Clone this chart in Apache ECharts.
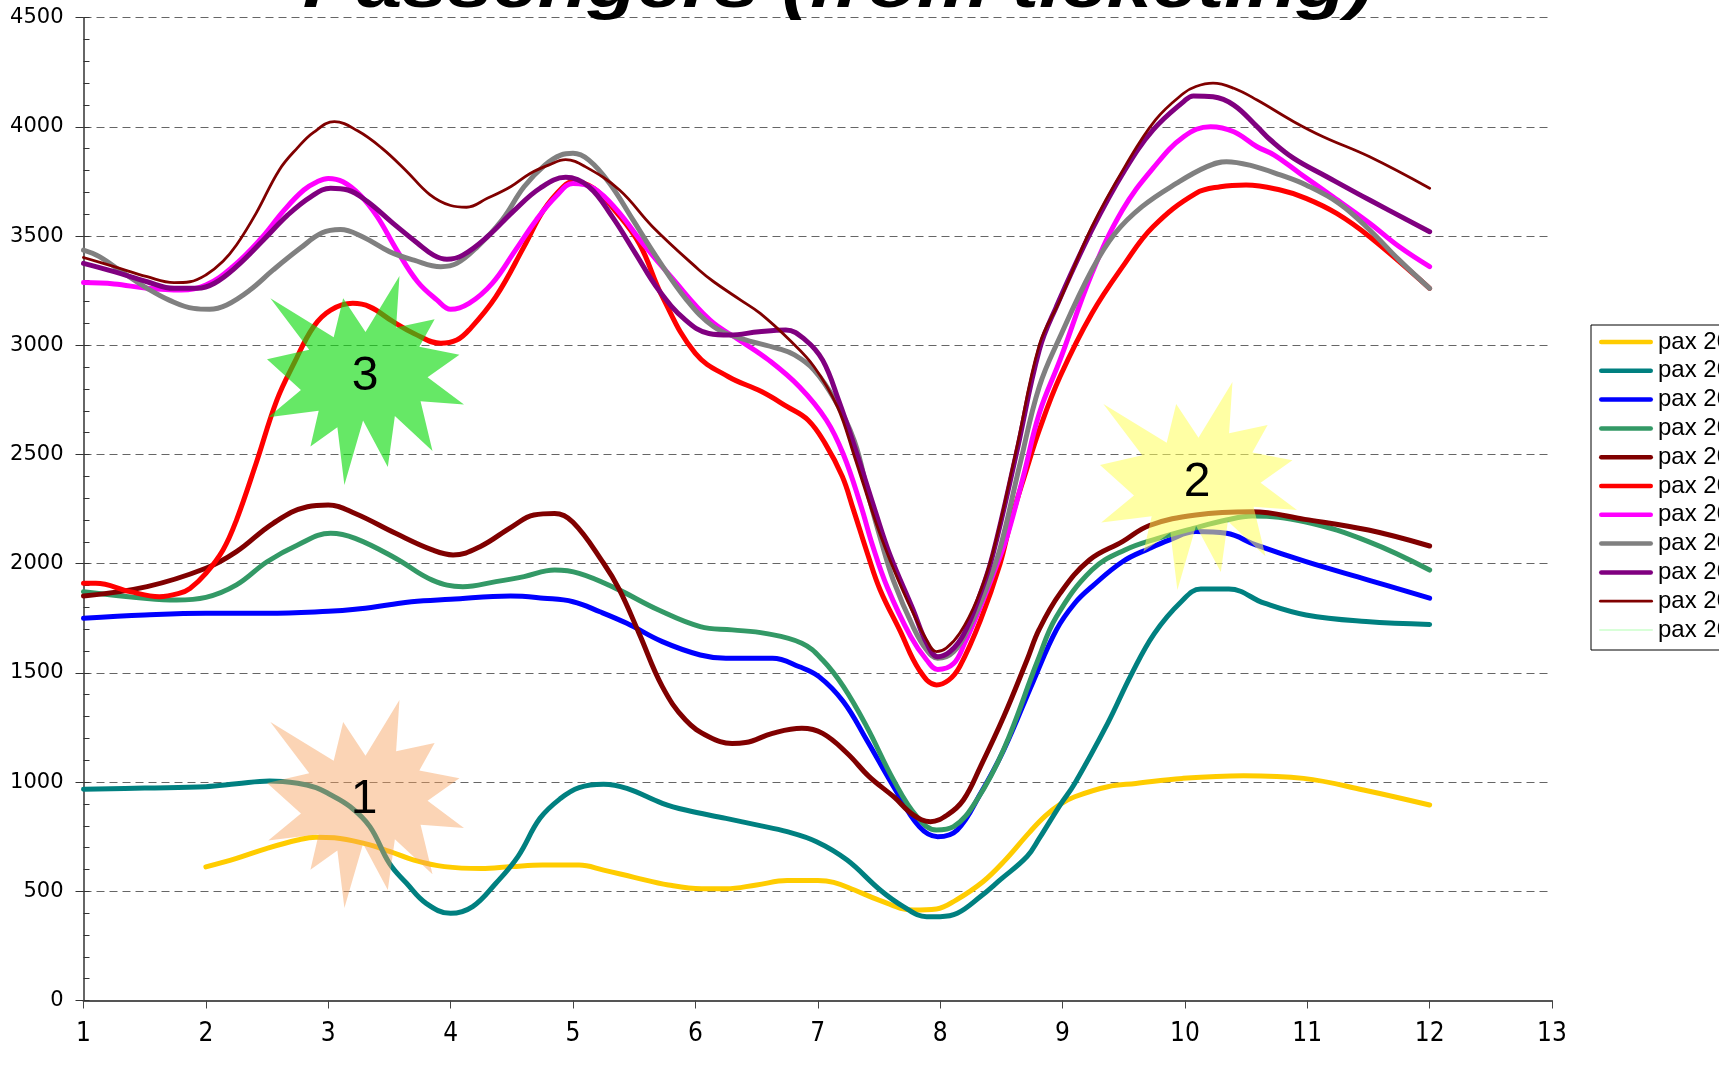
<!DOCTYPE html>
<html>
<head>
<meta charset="utf-8">
<title>Passengers (from ticketing)</title>
<script src="https://cdn.jsdelivr.net/npm/echarts@6/dist/echarts.min.js"></script>
<style>
  html, body { margin: 0; padding: 0; background: #ffffff; }
  #chart { width: 1719px; height: 1077px; }
</style>
</head>
<body>
<div id="chart"></div>
<script>
// Monthly passenger counts, one [month, passengers] list per year.
const seriesNames = ['pax 2000', 'pax 2001', 'pax 2002', 'pax 2003', 'pax 2004', 'pax 2005',
                     'pax 2006', 'pax 2007', 'pax 2008', 'pax 2009', 'pax 2010'];

const pax2000 = [[2,612],[2.25,651],[2.5,697],[2.75,735],[2.9,748],[3.05,745],[3.3,718],[3.5,683],[3.7,643],[3.95,613],[4.25,604],[4.5,613],[4.75,620],[5.05,620],[5.25,597],[5.5,564],[5.78,529],[6.05,512],[6.25,512],[6.5,529],[6.75,549],[7.0,549],[7.13,541],[7.3,506],[7.5,460],[7.78,414],[7.97,419],[8.13,460],[8.35,544],[8.52,636],[8.73,770],[8.86,845],[8.98,898],[9.1,933],[9.37,979],[9.6,994],[9.98,1017],[10.48,1029],[10.97,1017],[11.46,964],[12,895]];

const pax2001 = [[1,967],[1.5,973],[2,979],[2.25,992],[2.52,1005],[2.75,995],[2.9,975],[3.0,948],[3.18,887],[3.34,796],[3.5,628],[3.64,537],[3.8,445],[4.0,399],[4.18,430],[4.37,537],[4.55,659],[4.73,834],[4.9,926],[5.05,975],[5.25,990],[5.44,971],[5.73,903],[5.92,872],[6.25,834],[6.5,804],[6.75,773],[6.99,727],[7.24,643],[7.51,506],[7.7,430],[7.89,384],[8.0,384],[8.14,399],[8.33,476],[8.49,552],[8.71,659],[8.81,742],[8.98,895],[9.1,994],[9.37,1270],[9.56,1490],[9.75,1680],[9.97,1826],[10.13,1884],[10.36,1884],[10.65,1819],[10.99,1765],[11.48,1735],[12,1722]];

const pax2002 = [[1,1750],[1.5,1765],[2,1773],[2.5,1773],[3.0,1782],[3.22,1791],[3.5,1812],[3.68,1826],[4.0,1837],[4.49,1852],[4.76,1842],[5.0,1826],[5.22,1780],[5.44,1727],[5.73,1643],[6.04,1582],[6.25,1567],[6.63,1567],[6.85,1528],[7.01,1483],[7.21,1368],[7.4,1193],[7.62,979],[7.83,796],[7.98,750],[8.14,781],[8.33,948],[8.52,1147],[8.76,1460],[8.95,1697],[9.1,1819],[9.24,1895],[9.49,2009],[9.71,2070],[9.87,2108],[10.09,2147],[10.34,2139],[10.58,2086],[10.99,2009],[11.5,1925],[12,1842]];

const pax2003 = [[1,1872],[1.52,1841],[1.76,1834],[2.0,1846],[2.25,1903],[2.5,2009],[2.75,2086],[3.02,2139],[3.22,2116],[3.55,2025],[3.85,1925],[4.1,1895],[4.37,1918],[4.6,1941],[4.85,1971],[5.05,1956],[5.35,1887],[5.7,1788],[6.04,1712],[6.3,1697],[6.57,1681],[6.87,1636],[7.04,1559],[7.21,1437],[7.4,1254],[7.62,1009],[7.81,842],[7.97,781],[8.11,796],[8.3,918],[8.52,1150],[8.8,1560],[8.95,1757],[9.24,1971],[9.51,2063],[9.78,2116],[10.07,2162],[10.34,2200],[10.55,2218],[10.98,2192],[11.5,2101],[12,1971]];

const pax2004 = [[1,1852],[1.52,1895],[2,1979],[2.25,2055],[2.55,2185],[2.83,2261],[3.0,2269],[3.22,2230],[3.55,2139],[3.85,2063],[4.02,2040],[4.24,2078],[4.5,2169],[4.68,2223],[4.85,2230],[5.0,2190],[5.25,2002],[5.38,1880],[5.54,1681],[5.73,1437],[5.92,1284],[6.11,1208],[6.3,1177],[6.41,1181],[6.63,1223],[6.87,1246],[7.04,1223],[7.24,1132],[7.42,1025],[7.62,933],[7.78,850],[7.92,819],[8.06,850],[8.19,918],[8.33,1071],[8.52,1300],[8.71,1559],[8.81,1700],[8.98,1864],[9.22,2017],[9.49,2101],[9.71,2175],[10.09,2223],[10.55,2238],[10.98,2203],[11.5,2154],[12,2081]];

const pax2005 = [[1,1910],[1.1,1910],[1.38,1872],[1.62,1849],[1.78,1864],[1.87,1887],[2.0,1956],[2.14,2063],[2.25,2200],[2.41,2459],[2.58,2749],[2.72,2917],[2.88,3085],[3.02,3161],[3.2,3192],[3.34,3176],[3.53,3108],[3.7,3054],[3.92,3009],[4.05,3024],[4.15,3070],[4.37,3223],[4.6,3452],[4.76,3619],[4.92,3726],[5.0,3750],[5.17,3719],[5.34,3619],[5.54,3467],[5.73,3223],[6.0,2963],[6.27,2856],[6.54,2788],[6.75,2719],[6.92,2658],[7.06,2551],[7.2,2400],[7.29,2250],[7.41,2040],[7.51,1880],[7.67,1696],[7.83,1513],[7.97,1445],[8.07,1467],[8.16,1529],[8.33,1742],[8.49,2000],[8.58,2200],[8.7,2420],[8.81,2612],[8.98,2857],[9.24,3146],[9.51,3375],[9.74,3543],[10.09,3696],[10.29,3726],[10.5,3734],[10.78,3711],[10.99,3673],[11.24,3604],[11.51,3497],[12,3261]];

const pax2006 = [[1,3287],[1.25,3281],[1.52,3261],[1.8,3253],[2.0,3276],[2.22,3360],[2.44,3482],[2.64,3619],[2.8,3711],[2.91,3749],[3.0,3764],[3.12,3749],[3.26,3688],[3.4,3589],[3.56,3436],[3.73,3291],[3.89,3207],[4.0,3165],[4.15,3192],[4.34,3284],[4.53,3436],[4.7,3574],[4.86,3681],[5.0,3741],[5.17,3719],[5.36,3619],[5.57,3467],[5.8,3314],[6.12,3115],[6.36,3024],[6.6,2932],[6.85,2810],[7.07,2658],[7.21,2500],[7.35,2270],[7.45,2080],[7.57,1890],[7.76,1666],[7.89,1559],[7.98,1516],[8.11,1543],[8.2,1636],[8.33,1803],[8.46,1990],[8.55,2130],[8.68,2400],[8.81,2688],[8.98,2933],[9.24,3329],[9.49,3619],[9.74,3811],[9.99,3955],[10.21,4001],[10.4,3978],[10.59,3909],[10.73,3871],[10.94,3787],[11.21,3680],[11.51,3559],[11.75,3452],[12,3360]];

const pax2007 = [[1,3436],[1.13,3406],[1.33,3330],[1.52,3261],[1.7,3207],[1.9,3169],[2.03,3165],[2.17,3185],[2.36,3253],[2.55,3345],[2.77,3444],[2.95,3515],[3.1,3530],[3.28,3497],[3.5,3429],[3.7,3390],[3.92,3360],[4.05,3375],[4.22,3452],[4.42,3574],[4.6,3726],[4.77,3825],[4.9,3871],[5.0,3879],[5.13,3848],[5.3,3741],[5.49,3574],[5.68,3406],[5.93,3207],[6.15,3085],[6.37,3032],[6.67,2986],[6.81,2956],[6.97,2887],[7.14,2749],[7.3,2560],[7.42,2300],[7.52,2100],[7.62,1920],[7.78,1710],[7.89,1605],[7.98,1567],[8.11,1597],[8.24,1712],[8.38,1890],[8.49,2070],[8.65,2450],[8.81,2810],[8.98,3039],[9.24,3345],[9.43,3513],[9.65,3635],[9.93,3741],[10.18,3818],[10.34,3841],[10.53,3825],[10.78,3780],[10.99,3734],[11.26,3650],[11.51,3528],[11.75,3391],[12,3261]];

const pax2008 = [[1,3375],[1.25,3337],[1.52,3291],[1.74,3261],[1.93,3261],[2.07,3284],[2.25,3360],[2.47,3482],[2.67,3597],[2.86,3681],[3.02,3719],[3.16,3711],[3.32,3658],[3.53,3558],[3.73,3467],[3.86,3413],[3.97,3394],[4.1,3413],[4.3,3497],[4.51,3612],[4.73,3719],[4.94,3769],[5.13,3726],[5.32,3589],[5.51,3421],[5.7,3253],[5.92,3115],[6.11,3054],[6.28,3047],[6.52,3062],[6.74,3070],[6.9,3024],[7.04,2932],[7.17,2749],[7.31,2520],[7.47,2240],[7.59,2040],[7.78,1788],[7.89,1636],[7.98,1574],[8.08,1597],[8.19,1674],[8.33,1864],[8.43,2040],[8.62,2497],[8.81,2978],[8.95,3177],[9.24,3528],[9.51,3803],[9.74,3986],[9.99,4116],[10.07,4142],[10.23,4138],[10.4,4100],[10.59,4001],[10.7,3940],[10.89,3856],[11.16,3772],[11.51,3665],[12,3520]];

const pax2009 = [[1,3402],[1.25,3360],[1.52,3314],[1.74,3287],[1.87,3291],[2.0,3322],[2.14,3385],[2.25,3459],[2.41,3604],[2.6,3803],[2.75,3905],[2.88,3975],[3.05,4024],[3.24,3982],[3.44,3902],[3.63,3803],[3.83,3690],[4.0,3640],[4.13,3632],[4.3,3673],[4.49,3726],[4.65,3787],[4.8,3825],[4.94,3850],[5.1,3818],[5.38,3711],[5.65,3543],[6.03,3345],[6.15,3291],[6.37,3207],[6.53,3146],[6.77,3024],[6.97,2902],[7.16,2719],[7.3,2490],[7.48,2180],[7.62,1975],[7.78,1773],[7.89,1651],[7.97,1597],[8.05,1613],[8.16,1681],[8.3,1834],[8.43,2050],[8.62,2516],[8.81,3001],[8.98,3207],[9.24,3543],[9.51,3818],[9.76,4032],[9.99,4154],[10.09,4185],[10.23,4200],[10.4,4177],[10.59,4123],[10.89,4024],[11.13,3955],[11.51,3863],[12,3719]];

const pax2010 = [];

const seriesData = [pax2000, pax2001, pax2002, pax2003, pax2004, pax2005,
                    pax2006, pax2007, pax2008, pax2009, pax2010];

// Line colours and widths, in series order.
const seriesColors = ['#FFCC00', '#008080', '#0000FF', '#339966', '#800000', '#FF0000',
                      '#FF00FF', '#808080', '#800080', '#800000', '#CCFFCC'];
const seriesWidths = [5, 5, 5, 5, 5, 5, 5, 5, 5, 2.8, 1.5];

// Axis ranges.
const monthMin = 1, monthMax = 13, monthStep = 1;
const paxMin = 0, paxMax = 4500, paxStep = 500;

// Callout bursts (Excel "explosion" outline, 21600-unit box) with their numbers.
const burstOutline = [[10800,5800],[14522,0],[14155,5325],[18380,4457],[16702,7315],[21097,8137],
  [17607,10475],[21600,13290],[16837,12942],[18145,18095],[14020,14457],[13247,19737],
  [10532,14935],[8485,21600],[7715,15627],[4762,17617],[5667,13937],[135,14587],
  [3722,11775],[0,8615],[4627,7617],[370,2295],[7312,6320],[8352,2295]];
const callouts = [
  { label: '1', box: [267, 700, 197, 208], fill: 'rgba(247,160,90,0.45)', text: [364, 800] },
  { label: '2', box: [1100, 382, 197, 208], fill: 'rgba(255,255,90,0.55)', text: [1197, 483] },
  { label: '3', box: [267, 276, 197, 209], fill: 'rgba(20,220,20,0.65)', text: [365, 377] }
];

// Legend sample: a round-ended bar as thick as the series line.
function legendBar(h) {
  const r = h / 2, w = 54;
  return 'path://M' + r + ',0 L' + (w - r) + ',0 A' + r + ',' + r + ' 0 0 1 ' + (w - r) + ',' + h +
         ' L' + r + ',' + h + ' A' + r + ',' + r + ' 0 0 1 ' + r + ',0 Z';
}

const chart = echarts.init(document.getElementById('chart'), null, { renderer: 'canvas' });

const series = seriesNames.map((name, i) => ({
  name: name,
  type: 'line',
  data: seriesData[i],
  xAxisIndex: 0,
  yAxisIndex: 0,
  symbol: 'none',
  smooth: 0.4,
  lineStyle: { color: seriesColors[i], width: seriesWidths[i], cap: 'round', join: 'round' },
  itemStyle: { color: seriesColors[i] },
  emphasis: { disabled: true },
  z: 2 + i * 0.01
}));

const graphics = [];
callouts.forEach(c => {
  const [bx, by, bw, bh] = c.box;
  graphics.push({
    type: 'polygon',
    z: 100,
    shape: { points: burstOutline.map(p => [bx + p[0] / 21600 * bw, by + p[1] / 21600 * bh]) },
    style: { fill: c.fill, stroke: null }
  });
  graphics.push({
    type: 'text',
    z: 101,
    x: c.text[0],
    y: c.text[1],
    style: {
      text: c.label, fill: '#000', font: '48px "Liberation Sans", Arial, sans-serif',
      align: 'center', verticalAlign: 'middle', textAlign: 'center', textVerticalAlign: 'middle'
    }
  });
});
// Chart heading, widened to the plot's proportions
graphics.push({
  type: 'text',
  z: 101,
  x: 838,
  y: -11,
  scaleX: 1.27,
  style: {
    text: 'Passengers (from ticketing)', fill: '#000',
    font: 'italic bold 64px "Liberation Sans", Arial, sans-serif',
    align: 'center', verticalAlign: 'middle', textAlign: 'center', textVerticalAlign: 'middle'
  }
});

chart.setOption({
  animation: false,
  backgroundColor: '#ffffff',
  grid: { left: 83.5, right: 167, top: 17.7, bottom: 76.5, containLabel: false },
  legend: {
    orient: 'vertical',
    left: 1591,
    top: 325,
    padding: [5, 40, 8, 8],
    itemGap: 4.8,
    itemWidth: 54,
    itemHeight: 14,
    borderColor: '#000',
    borderWidth: 1,
    backgroundColor: '#ffffff',
    selectedMode: false,
    itemStyle: { borderWidth: 0 },
    data: seriesNames.map((n, i) => ({ name: n, icon: legendBar(Math.min(seriesWidths[i], 4.5)) })),
    textStyle: { fontFamily: '"Liberation Sans", Arial, sans-serif', fontSize: 24, color: '#000' }
  },
  xAxis: {
    type: 'value',
    min: monthMin,
    max: monthMax,
    interval: monthStep,
    axisLine: { show: true, onZero: false, lineStyle: { color: '#555', width: 2 } },
    axisTick: { show: true, length: 8, lineStyle: { color: '#444', width: 1 } },
    axisLabel: {
      show: true, margin: 21, showMinLabel: true, showMaxLabel: true,
      fontFamily: '"Liberation Sans Narrow", "DejaVu Sans Condensed", sans-serif',
      fontSize: 26, color: '#000'
    },
    splitLine: { show: false }
  },
  yAxis: [
    {
      type: 'value',
      position: 'left',
      min: paxMin,
      max: paxMax,
      interval: paxStep,
      axisLine: { show: true, lineStyle: { color: '#333', width: 1.5 } },
      axisTick: { show: true, inside: false, length: 8, lineStyle: { color: '#333' } },
      axisLabel: {
        margin: 20, fontFamily: '"DejaVu Sans", sans-serif', fontSize: 21, color: '#000',
        formatter: v => String(v)
      },
      splitLine: { show: true, lineStyle: { color: '#666', type: [8, 5], width: 1 } }
    },
    {
      type: 'value',
      position: 'left',
      min: paxMin,
      max: paxMax,
      interval: paxStep,
      axisLine: { show: false },
      axisLabel: { show: false },
      splitLine: { show: false },
      axisTick: { show: true, inside: true, length: 6, lineStyle: { color: '#333' } },
      minorTick: { show: true, splitNumber: 5, length: 6, lineStyle: { color: '#333' } }
    }
  ],
  series: series,
  graphic: { elements: graphics }
});
</script>
</body>
</html>
